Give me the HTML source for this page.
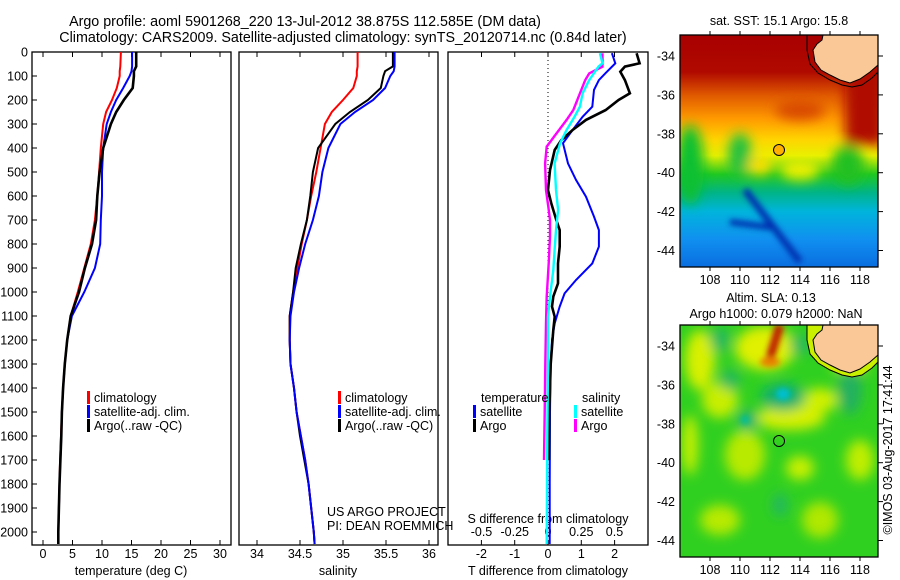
<!DOCTYPE html>
<html><head><meta charset="utf-8">
<style>
html,body{margin:0;padding:0;background:#fff;}
svg{display:block;font-family:"Liberation Sans",sans-serif;font-size:12.5px;}
.ttl{font-size:14.3px;}
</style></head>
<body>
<svg id="chart" width="900" height="580" viewBox="0 0 900 580" xmlns="http://www.w3.org/2000/svg">
<defs>
 <linearGradient id="sstGrad" x1="0" y1="0" x2="0" y2="1">
  <stop offset="0" stop-color="#a80000"/>
  <stop offset="0.16" stop-color="#b00a00"/>
  <stop offset="0.26" stop-color="#e05a00"/>
  <stop offset="0.36" stop-color="#ff9a00"/>
  <stop offset="0.45" stop-color="#ffd400"/>
  <stop offset="0.52" stop-color="#e8f000"/>
  <stop offset="0.60" stop-color="#20c820"/>
  <stop offset="0.68" stop-color="#00b488"/>
  <stop offset="0.76" stop-color="#00b4dc"/>
  <stop offset="0.88" stop-color="#1090f0"/>
  <stop offset="1" stop-color="#0a6ee0"/>
 </linearGradient>
 <filter id="blur6"><feGaussianBlur stdDeviation="6"/></filter>
 <filter id="blur3"><feGaussianBlur stdDeviation="3"/></filter>
 <clipPath id="clipTop"><rect x="680" y="35" width="198" height="232"/></clipPath>
 <clipPath id="clipBot"><rect x="680" y="325" width="198" height="232"/></clipPath>
 <clipPath id="clipP1"><rect x="32" y="52" width="199" height="493"/></clipPath>
 <clipPath id="clipP2"><rect x="239" y="52" width="199" height="493"/></clipPath>
 <clipPath id="clipP3"><rect x="448" y="52" width="200" height="493"/></clipPath>
</defs>

<text class="ttl" x="305" y="26" text-anchor="middle">Argo profile: aoml 5901268_220 13-Jul-2012 38.875S 112.585E (DM data)</text>
<text class="ttl" x="343" y="42" text-anchor="middle">Climatology: CARS2009. Satellite-adjusted climatology: synTS_20120714.nc (0.84d later)</text>

<g id="panels"></g>
<g id="maps"></g>
</svg>

<script>
// ---------- depth levels and profile data ----------
const depthStd = [0, 60, 80, 100, 150, 200, 250, 300, 400, 500, 600, 700, 800, 900, 1000, 1100, 1200, 1300, 1400, 1500, 1600, 1700, 1800, 1900, 2000, 2050];
const tempClim = [13.2, 13.1, 13.0, 13.0, 12.5, 11.7, 10.7, 10.2, 9.8, 9.5, 9.2, 8.8, 8.1, 7.0, 5.9, 4.7, 4.1, 3.7, 3.4, 3.2, 3.05, 2.9, 2.8, 2.7, 2.6, 2.6];
const tempSat  = [15.1, 15.1, 15.0, 14.7, 13.6, 12.4, 11.5, 10.8, 10.2, 10.0, 10.0, 9.8, 9.7, 8.8, 7.0, 4.9, 4.1, 3.7, 3.4, 3.2, 3.1, 2.95, 2.8, 2.7, 2.6, 2.6];
const tempArgo = [15.8, 15.8, 15.4, 15.4, 15.2, 13.7, 12.4, 11.5, 10.2, 9.6, 9.2, 9.0, 8.3, 7.1, 6.1, 4.7, 4.1, 3.7, 3.4, 3.2, 3.1, 2.95, 2.8, 2.7, 2.6, 2.6];
const salClim = [35.17, 35.17, 35.16, 35.16, 35.12, 35.0, 34.87, 34.79, 34.74, 34.69, 34.63, 34.58, 34.52, 34.47, 34.42, 34.38, 34.38, 34.39, 34.43, 34.46, 34.51, 34.56, 34.6, 34.63, 34.66, 34.67];
const salSat  = [35.6, 35.6, 35.59, 35.55, 35.49, 35.35, 35.14, 34.97, 34.83, 34.76, 34.72, 34.65, 34.56, 34.49, 34.43, 34.39, 34.38, 34.39, 34.43, 34.46, 34.51, 34.56, 34.6, 34.63, 34.66, 34.67];
const salArgo = [35.58, 35.58, 35.49, 35.47, 35.44, 35.29, 35.08, 34.91, 34.71, 34.65, 34.62, 34.58, 34.51, 34.45, 34.42, 34.38, 34.38, 34.39, 34.43, 34.46, 34.5, 34.55, 34.6, 34.63, 34.66, 34.67];

// difference panel data
const dDepthBlue = [5, 47, 88, 117, 158, 228, 270, 325, 380, 464, 533, 603, 686, 742, 811, 881, 950, 1006, 1061, 1131, 1200, 1300, 1500, 1800, 2050];
const dTempSat   = [1.92, 2.02, 1.73, 1.53, 1.38, 1.33, 1.04, 0.74, 0.45, 0.6, 0.84, 1.14, 1.38, 1.53, 1.53, 1.33, 0.84, 0.5, 0.35, 0.2, 0.12, 0.08, 0.06, 0.05, 0.05];
const dDepthBlack = [5, 47, 61, 82, 117, 172, 200, 242, 283, 325, 367, 408, 492, 575, 631, 700, 742, 811, 881, 964, 1019, 1061, 1103, 1158, 1300, 1500, 1700];
const dTempArgo   = [2.66, 2.75, 2.31, 2.17, 2.31, 2.46, 2.12, 1.73, 1.14, 0.74, 0.4, 0.2, 0.06, 0.0, 0.1, 0.25, 0.35, 0.35, 0.3, 0.3, 0.16, 0.12, 0.2, 0.16, 0.08, 0.04, 0.03];
const dDepthCyan = [5, 47, 61, 117, 172, 228, 269, 325, 381, 464, 575, 658, 742, 825, 908, 1019, 1103, 1300, 1600, 2050];
const dSalSat    = [0.39, 0.41, 0.38, 0.31, 0.26, 0.24, 0.2, 0.14, 0.09, 0.05, 0.06, 0.076, 0.06, 0.05, 0.04, 0.015, 0.0, 0.0, -0.005, -0.01];
const dDepthMag = [5, 47, 61, 75, 89, 117, 200, 242, 283, 339, 394, 464, 575, 644, 700, 769, 881, 1019, 1131, 1300, 1500, 1700];
const dSalArgo  = [0.41, 0.41, 0.41, 0.36, 0.31, 0.28, 0.22, 0.19, 0.14, 0.064, -0.01, -0.022, -0.015, 0.002, 0.015, 0.015, 0.005, -0.01, -0.015, -0.02, -0.025, -0.03];

// axis ticks
const depthTicks = [0,100,200,300,400,500,600,700,800,900,1000,1100,1200,1300,1400,1500,1600,1700,1800,1900,2000];
const tempTicks = [0,5,10,15,20,25,30];
const salTicks = [34,34.5,35,35.5,36];
const salTickLabels = ["34","34.5","35","35.5","36"];
const tdTicks = [-2,-1,0,1,2];
const sdTicks = [-0.5,-0.25,0,0.25,0.5];
const sdTickLabels = ["-0.5","-0.25","0","0.25","0.5"];
const lonTicks = [108,110,112,114,116,118];
const latTicks = [-34,-36,-38,-40,-42,-44];

// ---------- scales ----------
const Y = d => 52 + d*0.24;
const XT = t => 43 + t*5.9;
const XS = s => 257 + (s-34)*86;
const XTD = t => 548 + t*33.3;
const XSD = s => 548 + s*133;

const NS = "http://www.w3.org/2000/svg";
const panels = document.getElementById('panels');
function mk(tag, attrs, parent){
  const e = document.createElementNS(NS, tag);
  for (const k in attrs) e.setAttribute(k, attrs[k]);
  (parent||panels).appendChild(e);
  return e;
}
function txt(x,y,s,anchor,parent,name){
  const t = mk('text',{x:x,y:y,'text-anchor':anchor||'start'},parent);
  t.textContent = s;
  
  
  return t;
}
function line(depths, vals, xf, color, w, clip, name){
  const pts = depths.map((d,i)=> xf(vals[i]).toFixed(1)+','+Y(d).toFixed(1)).join(' ');
  const p = mk('polyline',{points:pts,fill:'none',stroke:color,'stroke-width':w,'stroke-linejoin':'miter','clip-path':'url(#'+clip+')'});
  
  
}

// panel frames
const frames = [[32,231,'temperature-panel'],[239,438,'salinity-panel'],[448,648,'difference-panel']];
frames.forEach(f=>{
  const r = mk('rect',{x:f[0],y:52,width:f[1]-f[0],height:493,fill:'none',stroke:'#000','stroke-width':1.3});
  
  
});

// depth axis
depthTicks.forEach(d=>{
  mk('line',{x1:32,x2:37,y1:Y(d),y2:Y(d),stroke:'#000'});
  txt(28, Y(d)+4.5, String(d), 'end', null, 'depth-tick-label');
});

// temperature axis
tempTicks.forEach(t=>{
  mk('line',{x1:XT(t),x2:XT(t),y1:52,y2:57,stroke:'#000'});
  mk('line',{x1:XT(t),x2:XT(t),y1:540,y2:545,stroke:'#000'});
  txt(XT(t), 558, String(t), 'middle', null, 'temperature-tick-label');
});
txt(131, 575, 'temperature (deg C)', 'middle', null, 'temperature-axis-title');

// salinity axis
salTicks.forEach((s,i)=>{
  mk('line',{x1:XS(s),x2:XS(s),y1:52,y2:57,stroke:'#000'});
  mk('line',{x1:XS(s),x2:XS(s),y1:540,y2:545,stroke:'#000'});
  txt(XS(s), 558, salTickLabels[i], 'middle', null, 'salinity-tick-label');
});
txt(338, 575, 'salinity', 'middle', null, 'salinity-axis-title');

// difference axes
tdTicks.forEach(t=>{
  mk('line',{x1:XTD(t),x2:XTD(t),y1:540,y2:545,stroke:'#000'});
  txt(XTD(t), 558, String(t), 'middle', null, 'tdiff-tick-label');
});
sdTicks.forEach((s,i)=>{
  mk('line',{x1:XSD(s),x2:XSD(s),y1:52,y2:57,stroke:'#000'});
  txt(XSD(s), 536, sdTickLabels[i], 'middle', null, 'sdiff-tick-label');
});
txt(548, 575, 'T difference from climatology', 'middle', null, 'tdiff-axis-title');
txt(548, 523, 'S difference from climatology', 'middle', null, 'sdiff-axis-title');
mk('line',{x1:548,x2:548,y1:52,y2:545,stroke:'#000','stroke-dasharray':'1,3','stroke-width':1});

// series panel 1
line(depthStd, tempClim, XT, '#ff0000', 2, 'clipP1', 'temp-climatology-line');
line(depthStd, tempSat, XT, '#0000ff', 2, 'clipP1', 'temp-satellite-line');
line(depthStd, tempArgo, XT, '#000000', 2.6, 'clipP1', 'temp-argo-line');
// series panel 2
line(depthStd, salClim, XS, '#ff0000', 2, 'clipP2', 'sal-climatology-line');
line(depthStd, salArgo, XS, '#000000', 2, 'clipP2', 'sal-argo-line');
line(depthStd, salSat, XS, '#0000ff', 2, 'clipP2', 'sal-satellite-line');
// series panel 3
line(dDepthBlue, dTempSat, XTD, '#0000ff', 2, 'clipP3', 'tdiff-satellite-line');
line(dDepthBlack, dTempArgo, XTD, '#000000', 2.6, 'clipP3', 'tdiff-argo-line');
line(dDepthMag, dSalArgo, XSD, '#ff00ff', 2.4, 'clipP3', 'sdiff-argo-line');
line(dDepthCyan, dSalSat, XSD, '#00ffff', 2.4, 'clipP3', 'sdiff-satellite-line');

// legends
function legItem(x,y,color,label,name){
  mk('rect',{x:x,y:y-11,width:3,height:13,fill:color});
  txt(x+7, y, label, 'start', null, name);
}
legItem(87,402,'#ff0000','climatology','legend-climatology');
legItem(87,416,'#0000ff','satellite-adj. clim.','legend-satellite-adj');
legItem(87,430,'#000000','Argo(..raw -QC)','legend-argo');
legItem(338,402,'#ff0000','climatology','legend2-climatology');
legItem(338,416,'#0000ff','satellite-adj. clim.','legend2-satellite-adj');
legItem(338,430,'#000000','Argo(..raw -QC)','legend2-argo');
txt(481, 402, 'temperature', 'start', null, 'legend3-temperature-heading');
txt(582, 402, 'salinity', 'start', null, 'legend3-salinity-heading');
legItem(473,416,'#0000ff','satellite','legend3-temp-satellite');
legItem(473,430,'#000000','Argo','legend3-temp-argo');
legItem(574,416,'#00ffff','satellite','legend3-sal-satellite');
legItem(574,430,'#ff00ff','Argo','legend3-sal-argo');
txt(327, 516, 'US ARGO PROJECT', 'start', null, 'credit-project');
txt(327, 530, 'PI: DEAN ROEMMICH', 'start', null, 'credit-pi');

// ---------- maps ----------
const maps = document.getElementById('maps');
function mm(tag, attrs, parent){ return mk(tag, attrs, parent||maps); }
const LX = lon => 710 + (lon-108)*15;
function landPath(off){
  const p = [[823,35],[878,35],[878,65],[870,72],[860,79],[850,83],[840,80],[830,75],[821,70],[815,62],[813,50],[817,44],[822,40]];
  return 'M'+p.map(q=>q[0]+','+(q[1]+off)).join(' L')+' Z';
}
function outlinePath(off){
  const p = [[807,35],[807,50],[810,64],[818,73],[830,80],[842,85],[852,87],[862,85],[872,78],[878,72]];
  return 'M'+p.map(q=>q[0]+','+(q[1]+off)).join(' L');
}
// top SST map
const gTop = mm('g',{'clip-path':'url(#clipTop)'});


mm('rect',{x:680,y:35,width:198,height:232,fill:'url(#sstGrad)'},gTop);
const gb = mm('g',{filter:'url(#blur6)'},gTop);
mm('rect',{x:845,y:35,width:40,height:110,fill:'#b00a00'},gb);
mm('ellipse',{cx:800,cy:110,rx:25,ry:10,fill:'#d84a00'},gb);
mm('ellipse',{cx:740,cy:155,rx:12,ry:22,fill:'#20c040'},gb);
mm('ellipse',{cx:848,cy:165,rx:16,ry:20,fill:'#20c020'},gb);
mm('ellipse',{cx:690,cy:165,rx:14,ry:40,fill:'#10c030'},gb);
mm('ellipse',{cx:800,cy:170,rx:20,ry:10,fill:'#f0f000'},gb);
mm('ellipse',{cx:760,cy:165,rx:12,ry:10,fill:'#ffe000'},gb);
const gs = mm('g',{filter:'url(#blur3)'},gTop);
mm('line',{x1:745,y1:190,x2:800,y2:262,stroke:'#0030b0','stroke-width':7},gs);
mm('line',{x1:730,y1:222,x2:775,y2:228,stroke:'#0030b0','stroke-width':6},gs);
mm('path',{d:landPath(0),fill:'#f9c896',stroke:'#000','stroke-width':1},gTop);
mm('path',{d:outlinePath(0),fill:'none',stroke:'#000','stroke-width':1},gTop);
const c1 = mm('circle',{cx:779,cy:150,r:5.5,fill:'#ffb000',stroke:'#000','stroke-width':1});


mm('rect',{x:680,y:35,width:198,height:232,fill:'none',stroke:'#000','stroke-width':1.3});

// bottom SLA map
const gBot = mm('g',{'clip-path':'url(#clipBot)'});


mm('rect',{x:680,y:325,width:198,height:232,fill:'#30d020'},gBot);
const gb2 = mm('g',{filter:'url(#blur6)'},gBot);
[[765,348,30,22,'#e0f000'],[700,360,15,30,'#d8f000'],[720,400,18,18,'#c8ee00'],[790,418,35,12,'#d8f000'],[820,400,18,12,'#d0f000'],[745,455,20,25,'#b8ea00'],[800,468,14,12,'#c8f000'],[860,460,14,20,'#c0ee00'],[720,520,20,15,'#b8ea00'],[820,520,18,18,'#b0e800'],[690,445,8,30,'#c8f000'],[850,365,18,10,'#c0f000']].forEach(e=>mm('ellipse',{cx:e[0],cy:e[1],rx:e[2],ry:e[3],fill:e[4]},gb2));
[[783,397,22,14,'#10b070'],[850,390,12,25,'#20b060'],[748,420,10,10,'#10b070'],[730,380,10,10,'#20b860'],[720,340,10,12,'#20b860'],[800,345,10,10,'#20b860'],[780,505,8,12,'#20b860']].forEach(e=>mm('ellipse',{cx:e[0],cy:e[1],rx:e[2],ry:e[3],fill:e[4]},gb2));
const gs2 = mm('g',{filter:'url(#blur3)'},gBot);
mm('line',{x1:780,y1:325,x2:770,y2:358,stroke:'#c02000','stroke-width':9},gs2);
mm('ellipse',{cx:770,cy:362,rx:10,ry:5,fill:'#e88000'},gs2);
mm('ellipse',{cx:783,cy:394,rx:7,ry:6,fill:'#00c0d0'},gs2);
mm('ellipse',{cx:745,cy:420,rx:4,ry:4,fill:'#00c0a0'},gs2);
mm('path',{d:outlinePath(290)+' L878,325 L807,325 Z',fill:'#c8f000',stroke:'none'},gBot);
mm('path',{d:landPath(290),fill:'#f9c896',stroke:'#000','stroke-width':1},gBot);
mm('path',{d:outlinePath(290),fill:'none',stroke:'#000','stroke-width':1},gBot);
const c2 = mm('circle',{cx:779,cy:441,r:5.5,fill:'none',stroke:'#000','stroke-width':1});


mm('rect',{x:680,y:325,width:198,height:232,fill:'none',stroke:'#000','stroke-width':1.3});

// map axes
[[35,56,'sst'],[325,346,'sla']].forEach(m=>{
  const top=m[0], y0=m[1];
  lonTicks.forEach(l=>{
    mm('line',{x1:LX(l),x2:LX(l),y1:top-4,y2:top,stroke:'#000'});
    mm('line',{x1:LX(l),x2:LX(l),y1:top+232,y2:top+236,stroke:'#000'});
    txt(LX(l), top+249, String(l), 'middle', maps, m[2]+'-lon-tick-label');
  });
  latTicks.forEach((la,i)=>{
    const y = y0 + i*38.9;
    mm('line',{x1:878,x2:883,y1:y,y2:y,stroke:'#000'});
    txt(675, y+4.5, String(la), 'end', maps, m[2]+'-lat-tick-label');
  });
});
txt(779, 25, 'sat. SST: 15.1 Argo: 15.8', 'middle', maps, 'sst-map-title');
txt(771, 302, 'Altim. SLA: 0.13', 'middle', maps, 'sla-map-title');
txt(776, 318, 'Argo h1000: 0.079 h2000: NaN', 'middle', maps, 'sla-map-subtitle');
const ts = txt(0, 0, '©IMOS 03-Aug-2017 17:41:44', 'middle', maps, 'imos-timestamp');
ts.setAttribute('transform','translate(892,450) rotate(-90)');
</script>
</body></html>
